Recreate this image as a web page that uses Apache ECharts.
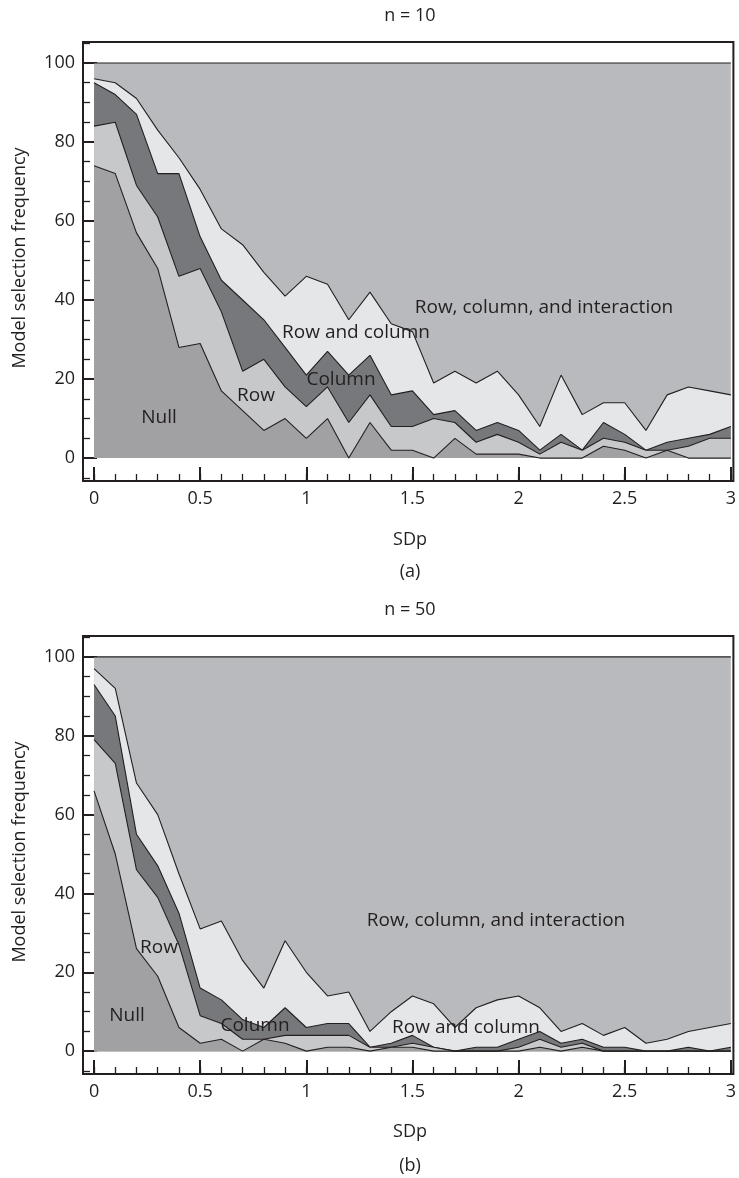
<!DOCTYPE html>
<html>
<head>
<meta charset="utf-8">
<script src="https://cdn.jsdelivr.net/npm/echarts@6/dist/echarts.min.js"></script>
<style>
  html, body { margin: 0; padding: 0; background: #ffffff; }
  #chart { width: 739px; height: 1178px; }
</style>
</head>
<body>
<div id="chart"></div>
<script>
// SDp values along the x axis
const sdp = [0, 0.1, 0.2, 0.3, 0.4, 0.5, 0.6, 0.7, 0.8, 0.9, 1, 1.1, 1.2, 1.3, 1.4, 1.5,
             1.6, 1.7, 1.8, 1.9, 2, 2.1, 2.2, 2.3, 2.4, 2.5, 2.6, 2.7, 2.8, 2.9, 3];

const models = ['Null', 'Row', 'Column', 'Row and column', 'Row, column, and interaction'];

// n = 10: selection frequency (%) of each model
const n10Null   = [74,72,57,48,28,29,17,12,7,10,5,10,0,9,2,2,0,5,1,1,1,0,0,0,3,2,0,2,0,0,0];
const n10Row    = [10,13,12,13,18,19,20,10,18,8,8,8,9,7,6,6,10,4,3,5,3,1,4,2,2,2,2,0,3,5,5];
const n10Column = [11,7,18,11,26,8,8,18,10,10,8,9,12,10,8,9,1,3,3,3,3,1,2,0,4,2,0,2,2,1,3];
const n10RowCol = [1,3,4,11,4,12,13,14,12,13,25,17,14,16,18,15,8,10,12,13,9,6,15,9,5,8,5,12,13,11,8];
const n10Inter  = [4,5,9,17,24,32,42,46,53,59,54,56,65,58,66,68,81,78,81,78,84,92,79,89,86,86,93,84,82,83,84];

// n = 50: selection frequency (%) of each model
const n50Null   = [66,50,26,19,6,2,3,0,3,2,0,1,1,0,1,1,0,0,0,0,0,1,0,1,0,0,0,0,0,0,0];
const n50Row    = [13,23,20,20,21,7,4,3,0,2,4,3,3,1,0,1,1,0,0,0,1,2,1,1,0,0,0,0,0,0,0];
const n50Column = [14,12,9,8,8,7,6,5,3,7,2,3,3,0,1,2,0,0,1,1,2,2,1,1,1,1,0,0,1,0,1];
const n50RowCol = [4,7,13,13,10,15,20,15,10,17,14,7,8,4,8,10,11,6,10,12,11,6,3,4,3,5,2,3,4,6,6];
const n50Inter  = [3,8,32,40,55,69,67,77,84,72,80,86,85,95,90,86,88,94,89,87,86,89,95,93,96,94,98,97,95,94,93];

// tick positions
const xMajor = [0, 0.5, 1, 1.5, 2, 2.5, 3];
const xMinor = sdp;
const yMajor = [0, 20, 40, 60, 80, 100];
const yMinor = [-5, 5, 10, 15, 25, 30, 35, 45, 50, 55, 65, 70, 75, 85, 90, 95, 105];

const ink = '#231f20';
const fills = ['#a1a1a4', '#c7c8ca', '#77787b', '#e5e6e8', '#b9babe'];
const FONT = 'Open Sans';

const chart = echarts.init(document.getElementById('chart'), null, { renderer: 'canvas' });

const grids = [
  { left: 83, top: 42, width: 652, height: 439, show: true, borderColor: ink, borderWidth: 2, backgroundColor: '#fff' },
  { left: 83, top: 636, width: 652, height: 438, show: true, borderColor: ink, borderWidth: 2, backgroundColor: '#fff' }
];

function xAxes(g) {
  const base = {
    type: 'value', gridIndex: g, min: -0.052, max: 3.012, position: 'bottom',
    axisLine: { show: false, onZero: false }, splitLine: { show: false }
  };
  return [
    Object.assign({}, base, {
      axisTick: { show: true, inside: true, length: 14, customValues: xMajor, lineStyle: { color: ink, width: 2 } },
      axisLabel: { show: true, customValues: xMajor, margin: 9, color: ink, fontSize: 18, fontFamily: FONT,
                   formatter: v => String(v) }
    }),
    Object.assign({}, base, {
      axisTick: { show: true, inside: true, length: 7, customValues: xMinor, lineStyle: { color: ink, width: 1.3 } },
      axisLabel: { show: false }
    })
  ];
}

function yAxes(g) {
  const base = {
    type: 'value', gridIndex: g, min: -5.8, max: 105.3, position: 'left',
    axisLine: { show: false, onZero: false }, splitLine: { show: false }
  };
  return [
    Object.assign({}, base, {
      axisTick: { show: true, inside: true, length: 14, customValues: yMajor, lineStyle: { color: ink, width: 2 } },
      axisLabel: { show: true, customValues: yMajor, margin: 8, color: ink, fontSize: 18, fontFamily: FONT }
    }),
    Object.assign({}, base, {
      axisTick: { show: true, inside: true, length: 7, customValues: yMinor, lineStyle: { color: ink, width: 1.3 } },
      axisLabel: { show: false }
    })
  ];
}

// Each model's band runs from the running total below it up to the running
// total including it; layers are painted from the top band down so that
// every band sits on the one above its lower edge.
function panelSeries(g, columns) {
  const totals = [];
  let run = sdp.map(() => 0);
  columns.forEach(vals => {
    run = run.map((r, i) => r + vals[i]);
    totals.push(run.slice());
  });
  return totals.map((tot, k) => ({
    name: models[k],
    type: 'line',
    xAxisIndex: g * 2,
    yAxisIndex: g * 2,
    symbol: 'none',
    silent: true,
    animation: false,
    data: sdp.map((x, i) => [x, tot[i]]),
    lineStyle: { color: ink, width: 1.1 },
    areaStyle: { color: fills[k], opacity: 1, origin: 0 },
    z: 10 - k
  }));
}

function txt(x, y, s, size) {
  return {
    type: 'text', x: x, y: y, z: 100,
    style: { text: s, fill: ink, font: (size || 19) + 'px "' + FONT + '"', align: 'center', verticalAlign: 'middle' }
  };
}

const graphics = [
  // panel (a)
  txt(410, 16, 'n = 10', 18),
  txt(410, 540, 'SDp', 18),
  txt(410, 572, '(a)', 18),
  txt(159, 418, 'Null'),
  txt(256, 396, 'Row'),
  txt(341, 380, 'Column'),
  txt(356, 333, 'Row and column'),
  txt(544, 308, 'Row, column, and interaction'),
  // panel (b)
  txt(410, 610, 'n = 50', 18),
  txt(410, 1132, 'SDp', 18),
  txt(410, 1166, '(b)', 18),
  txt(127, 1016, 'Null'),
  txt(159, 948, 'Row'),
  txt(255, 1026, 'Column'),
  txt(466, 1028, 'Row and column'),
  txt(496, 921, 'Row, column, and interaction'),
  // y-axis names
  { type: 'text', x: 20, y: 258, rotation: Math.PI / 2, z: 100,
    style: { text: 'Model selection frequency', fill: ink, font: '18px "' + FONT + '"', align: 'center', verticalAlign: 'middle' } },
  { type: 'text', x: 20, y: 852, rotation: Math.PI / 2, z: 100,
    style: { text: 'Model selection frequency', fill: ink, font: '18px "' + FONT + '"', align: 'center', verticalAlign: 'middle' } }
];

chart.setOption({
  animation: false,
  backgroundColor: '#ffffff',
  grid: grids,
  xAxis: xAxes(0).concat(xAxes(1)),
  yAxis: yAxes(0).concat(yAxes(1)),
  series: panelSeries(0, [n10Null, n10Row, n10Column, n10RowCol, n10Inter])
    .concat(panelSeries(1, [n50Null, n50Row, n50Column, n50RowCol, n50Inter])),
  graphic: graphics
});
</script>
</body>
</html>
